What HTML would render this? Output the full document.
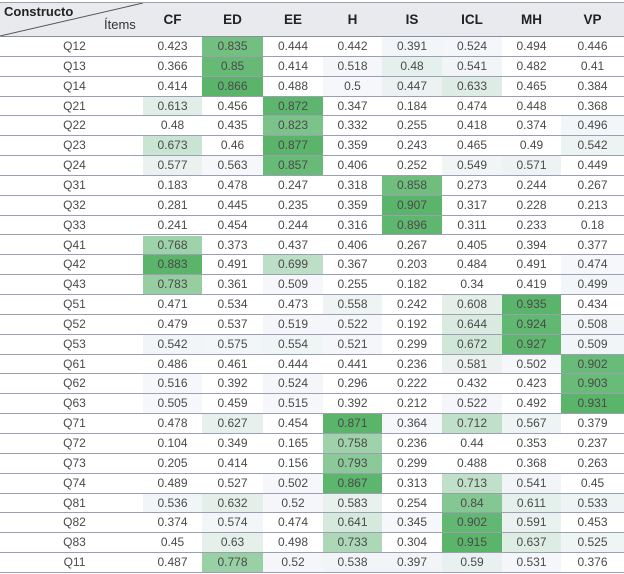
<!DOCTYPE html>
<html><head><meta charset="utf-8"><style>
html,body{margin:0;padding:0;background:#fff;}
body{width:624px;height:574px;overflow:hidden;font-family:"Liberation Sans",sans-serif;position:relative;}
#t{position:absolute;left:0;top:0;width:624px;height:574px;color:#4a4a4a;font-size:12px;}
.r{display:flex;position:absolute;left:0;width:624px;height:19.85px;box-sizing:border-box;border-bottom:1px solid #9aa0b0;overflow:hidden;}
.r>div{text-align:center;line-height:19px;height:18.85px;overflow:hidden;}
.h{top:2px;height:35px;background:#e8eaee;border-top:1px solid #9aa0b0;border-bottom:1px solid #8a90a0;font-weight:bold;font-size:13.5px;color:#222;}
.h>div{line-height:33px;height:33px;}
.c0{width:143px;padding-left:6px;box-sizing:border-box;flex:none}.c1{width:59px;flex:none}.c2{width:61px;flex:none}.c3{width:60px;flex:none}.c4{width:59px;flex:none}.c5{width:60px;flex:none}.c6{width:60px;flex:none}.c7{width:59px;flex:none}.c8{width:63px;flex:none}
</style></head><body>
<div id="t">
<div class="r h"><div class="c0" style="position:relative;padding:0"><svg width="143" height="33" style="position:absolute;left:0;top:0"><line x1="0" y1="33" x2="143" y2="0" stroke="#555" stroke-width="1"/></svg><span style="position:absolute;left:4px;top:0;line-height:18px;font-size:13px">Constructo</span><span style="position:absolute;left:104px;top:13px;line-height:18px;font-weight:normal;font-size:13px;color:#333">Ítems</span></div><div class="c1">CF</div><div class="c2">ED</div><div class="c3">EE</div><div class="c4">H</div><div class="c5">IS</div><div class="c6">ICL</div><div class="c7">MH</div><div class="c8">VP</div></div>
<div id="tb">
<div class="r"><div>Q12</div><div>0.423</div><div>0.835</div><div>0.444</div><div>0.442</div><div>0.391</div><div>0.524</div><div>0.494</div><div>0.446</div></div>
<div class="r"><div>Q13</div><div>0.366</div><div>0.85</div><div>0.414</div><div>0.518</div><div>0.48</div><div>0.541</div><div>0.482</div><div>0.41</div></div>
<div class="r"><div>Q14</div><div>0.414</div><div>0.866</div><div>0.488</div><div>0.5</div><div>0.447</div><div>0.633</div><div>0.465</div><div>0.384</div></div>
<div class="r"><div>Q21</div><div>0.613</div><div>0.456</div><div>0.872</div><div>0.347</div><div>0.184</div><div>0.474</div><div>0.448</div><div>0.368</div></div>
<div class="r"><div>Q22</div><div>0.48</div><div>0.435</div><div>0.823</div><div>0.332</div><div>0.255</div><div>0.418</div><div>0.374</div><div>0.496</div></div>
<div class="r"><div>Q23</div><div>0.673</div><div>0.46</div><div>0.877</div><div>0.359</div><div>0.243</div><div>0.465</div><div>0.49</div><div>0.542</div></div>
<div class="r"><div>Q24</div><div>0.577</div><div>0.563</div><div>0.857</div><div>0.406</div><div>0.252</div><div>0.549</div><div>0.571</div><div>0.449</div></div>
<div class="r"><div>Q31</div><div>0.183</div><div>0.478</div><div>0.247</div><div>0.318</div><div>0.858</div><div>0.273</div><div>0.244</div><div>0.267</div></div>
<div class="r"><div>Q32</div><div>0.281</div><div>0.445</div><div>0.235</div><div>0.359</div><div>0.907</div><div>0.317</div><div>0.228</div><div>0.213</div></div>
<div class="r"><div>Q33</div><div>0.241</div><div>0.454</div><div>0.244</div><div>0.316</div><div>0.896</div><div>0.311</div><div>0.233</div><div>0.18</div></div>
<div class="r"><div>Q41</div><div>0.768</div><div>0.373</div><div>0.437</div><div>0.406</div><div>0.267</div><div>0.405</div><div>0.394</div><div>0.377</div></div>
<div class="r"><div>Q42</div><div>0.883</div><div>0.491</div><div>0.699</div><div>0.367</div><div>0.203</div><div>0.484</div><div>0.491</div><div>0.474</div></div>
<div class="r"><div>Q43</div><div>0.783</div><div>0.361</div><div>0.509</div><div>0.255</div><div>0.182</div><div>0.34</div><div>0.419</div><div>0.499</div></div>
<div class="r"><div>Q51</div><div>0.471</div><div>0.534</div><div>0.473</div><div>0.558</div><div>0.242</div><div>0.608</div><div>0.935</div><div>0.434</div></div>
<div class="r"><div>Q52</div><div>0.479</div><div>0.537</div><div>0.519</div><div>0.522</div><div>0.192</div><div>0.644</div><div>0.924</div><div>0.508</div></div>
<div class="r"><div>Q53</div><div>0.542</div><div>0.575</div><div>0.554</div><div>0.521</div><div>0.299</div><div>0.672</div><div>0.927</div><div>0.509</div></div>
<div class="r"><div>Q61</div><div>0.486</div><div>0.461</div><div>0.444</div><div>0.441</div><div>0.236</div><div>0.581</div><div>0.502</div><div>0.902</div></div>
<div class="r"><div>Q62</div><div>0.516</div><div>0.392</div><div>0.524</div><div>0.296</div><div>0.222</div><div>0.432</div><div>0.423</div><div>0.903</div></div>
<div class="r"><div>Q63</div><div>0.505</div><div>0.459</div><div>0.515</div><div>0.392</div><div>0.212</div><div>0.522</div><div>0.492</div><div>0.931</div></div>
<div class="r"><div>Q71</div><div>0.478</div><div>0.627</div><div>0.454</div><div>0.871</div><div>0.364</div><div>0.712</div><div>0.567</div><div>0.379</div></div>
<div class="r"><div>Q72</div><div>0.104</div><div>0.349</div><div>0.165</div><div>0.758</div><div>0.236</div><div>0.44</div><div>0.353</div><div>0.237</div></div>
<div class="r"><div>Q73</div><div>0.205</div><div>0.414</div><div>0.156</div><div>0.793</div><div>0.299</div><div>0.488</div><div>0.368</div><div>0.263</div></div>
<div class="r"><div>Q74</div><div>0.489</div><div>0.527</div><div>0.502</div><div>0.867</div><div>0.313</div><div>0.713</div><div>0.541</div><div>0.45</div></div>
<div class="r"><div>Q81</div><div>0.536</div><div>0.632</div><div>0.52</div><div>0.583</div><div>0.254</div><div>0.84</div><div>0.611</div><div>0.533</div></div>
<div class="r"><div>Q82</div><div>0.374</div><div>0.574</div><div>0.474</div><div>0.641</div><div>0.345</div><div>0.902</div><div>0.591</div><div>0.453</div></div>
<div class="r"><div>Q83</div><div>0.45</div><div>0.63</div><div>0.498</div><div>0.733</div><div>0.304</div><div>0.915</div><div>0.637</div><div>0.525</div></div>
<div class="r"><div>Q11</div><div>0.487</div><div>0.778</div><div>0.52</div><div>0.538</div><div>0.397</div><div>0.59</div><div>0.531</div><div>0.376</div></div>
</div></div>
<script>
var lo=[0.5,0.55,0.5,0.5,0.34,0.5,0.5,0.46];
var rows=document.getElementById('tb').children;
var mx=[0,0,0,0,0,0,0,0];
for(var r=0;r<rows.length;r++){rows[r].style.top=(37+r*19.85)+'px';rows[r].children[0].className='c0';for(var c=0;c<8;c++){var e=rows[r].children[c+1];e.className='c'+(c+1);var v=parseFloat(e.textContent);if(v>mx[c])mx[c]=v;}}
var a=[246,247,251],b=[90,181,107];
for(var r=0;r<rows.length;r++)for(var c=0;c<8;c++){
 var cell=rows[r].children[c+1],v=parseFloat(cell.textContent);
 if(v<lo[c])continue;
 var t=(v-lo[c])/(mx[c]-lo[c]);t=Math.pow(t,1.6);
 var col=a.map(function(x,i){return Math.round(x+(b[i]-x)*t);});
 cell.style.background='rgb('+col.join(',')+')';
}
</script>
</body></html>
